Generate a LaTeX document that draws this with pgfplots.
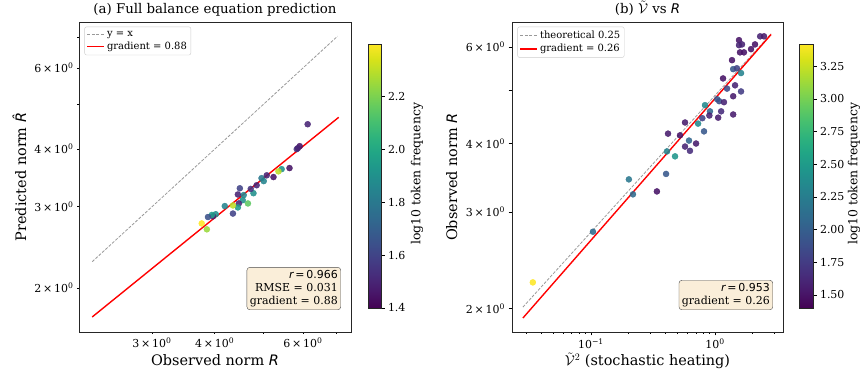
\documentclass[border=0pt]{standalone}
\usepackage{fontspec}
\setmainfont{DejaVu Serif}
\newfontfamily\msans{DejaVu Sans}
\usepackage{pgfplots}
\pgfplotsset{compat=1.18}
\definecolor{wheatbox}{RGB}{250,238,217}
\newcommand{\mi}[1]{{\msans\itshape #1}}
\newcommand{\tl}[1]{#1\,×\,10\textsuperscript{0}}
\begin{document}
\begin{tikzpicture}
\path[use as bounding box] (0,0) rectangle (862bp,375bp);
% ---------------- (a)
\begin{axis}[
  scale only axis, xmode=log, ymode=log, anchor=south west, clip=false,
  at={(79bp,43bp)}, width=272bp, height=310bp,
  tick align=outside, xtick pos=left, ytick pos=left,
  major tick length=2bp, minor tick length=2bp,
  tick style={black, line width=0.6pt},
  axis line style={line width=0.8pt, black!85},
  ticklabel style={font=\fontsize{11}{13}\selectfont},
  xlabel style={font=\fontsize{14.5}{16}\selectfont, at={(axis description cs:0.5,0)}, anchor=base, yshift=-34bp},
  ylabel style={font=\fontsize{14.5}{16}\selectfont, at={(axis description cs:-0.219,0.5)}, anchor=center},
  title style={font=\fontsize{13.4}{15}\selectfont, at={(axis description cs:0.5,1)}, anchor=south, yshift=-3.5bp},
  colormap/viridis,
  legend style={font=\fontsize{10}{12}\selectfont, draw=black!20, rounded corners=2bp,
    at={(0.02,0.985)}, anchor=north west, inner sep=2bp, row sep=0.5bp},
  legend cell align=left,
  xmin=2.146, xmax=7.48, ymin=1.605, ymax=7.55,
  xtick={3,4,5,6,7}, xticklabels={\tl{3},\tl{4},,\tl{6},},
  ytick={2,3,4,5,6,7}, yticklabels={\tl{2},\tl{3},\tl{4},,\tl{6},},
  minor xtick={}, minor ytick={},
  title={(a) Full balance equation prediction},
  xlabel={Observed norm \mi{R}},
  ylabel={Predicted norm \mi{R̂}},
  point meta min=1.4, point meta max=2.40,
  colorbar right,
  colorbar style={at={(parent axis.north east)}, anchor=north west, xshift=8.5bp, yshift=-22bp,
    scale only axis, width=13bp, height=264bp,
    tick align=outside, ytick pos=right, yticklabel pos=right,
    major tick length=3.5bp, xtick=\empty,
    tick style={black, line width=0.6pt},
    axis line style={line width=0.8pt, black!85},
    ticklabel style={font=\fontsize{11}{13}\selectfont},
    ytick={1.4,1.6,1.8,2.0,2.2}, yticklabels={1.4,1.6,1.8,2.0,2.2}},
]
\addplot[scatter, only marks, mark=*, mark size=3bp, point meta=explicit,
    scatter/use mapped color={draw=mapped color, fill=mapped color},
    fill opacity=0.88, draw opacity=0.88, forget plot] table[meta=c] {
x y c
6.13 4.53 1.5
5.91 4.06 1.45
5.83 4.00 1.55
5.86 4.02 1.5
5.64 3.64 1.45
5.44 3.62 1.9
5.36 3.58 2.3
5.24 3.48 1.45
5.08 3.51 1.5
4.96 3.46 1.8
5.01 3.41 1.85
4.85 3.34 1.5
4.78 3.21 1.9
4.72 3.28 1.55
4.66 3.05 2.15
4.57 3.18 1.85
4.55 3.10 1.9
4.49 3.29 1.6
4.45 3.19 1.5
4.47 3.05 1.5
4.45 2.99 1.95
4.35 3.02 2.3
4.35 2.90 1.6
4.19 3.01 1.85
4.02 2.89 1.9
3.97 2.86 1.5
3.95 2.88 1.95
3.88 2.85 1.65
3.77 2.76 2.4
3.86 2.68 2.25
};
\addplot[gray!80, line width=0.8bp, dash pattern=on 3bp off 1.5bp] coordinates {(2.28,2.28) (7.03,7.03)};
\addlegendentry{y = x}
\addplot[red, line width=1.4bp] coordinates {(2.28,1.73) (7.07,4.69)};
\addlegendentry{gradient = 0.88}
\node[anchor=south east, fill=wheatbox, draw=black!70, rounded corners=3bp, align=right,
  font=\fontsize{11}{13}\selectfont, inner sep=3bp] at (rel axis cs:0.963,0.071)
  {\mi{r}{\msans\,=\,0.966}\\RMSE = 0.031\\gradient = 0.88};
\node[rotate=90, anchor=center, font=\fontsize{12.5}{14}\selectfont] at (rel axis cs:1.243,0.51)
  {log10 token frequency};
\end{axis}
% ---------------- (b)
\begin{axis}[
  scale only axis, xmode=log, ymode=log, anchor=south west, clip=false,
  at={(512bp,43bp)}, width=271bp, height=310bp,
  tick align=outside, xtick pos=left, ytick pos=left,
  major tick length=3.5bp, minor tick length=2bp,
  tick style={black, line width=0.6pt},
  axis line style={line width=0.8pt, black!85},
  ticklabel style={font=\fontsize{11}{13}\selectfont},
  xlabel style={font=\fontsize{14.5}{16}\selectfont, at={(axis description cs:0.5,0)}, anchor=base, yshift=-34bp},
  ylabel style={font=\fontsize{14.5}{16}\selectfont, at={(axis description cs:-0.2225,0.5)}, anchor=center},
  title style={font=\fontsize{13.4}{15}\selectfont, at={(axis description cs:0.5,1)}, anchor=south, yshift=-3.5bp},
  colormap/viridis,
  legend style={font=\fontsize{10}{12}\selectfont, draw=black!20, rounded corners=2bp,
    at={(0.02,0.985)}, anchor=north west, inner sep=2bp, row sep=0.5bp},
  legend cell align=left,
  xmin=0.0231, xmax=3.53, ymin=1.81, ymax=6.67,
  xtick={0.1,1}, xticklabels={10\textsuperscript{−1},10\textsuperscript{0}},
  minor xtick={0.03,0.04,0.05,0.06,0.07,0.08,0.09,0.2,0.3,0.4,0.5,0.6,0.7,0.8,0.9,2,3},
  ytick={2,3,4,5,6}, yticklabels={\tl{2},\tl{3},\tl{4},,\tl{6}},
  minor ytick={},
  title={(b) $\tilde{\mathcal{V}}$ vs \mi{R}},
  xlabel={$\tilde{\mathcal{V}}^2$ (stochastic heating)},
  ylabel={Observed norm \mi{R}},
  point meta min=1.40, point meta max=3.42,
  colorbar right,
  colorbar style={at={(parent axis.north east)}, anchor=north west, xshift=7.5bp, yshift=-22bp,
    scale only axis, width=14bp, height=264bp,
    tick align=outside, ytick pos=right, yticklabel pos=right,
    major tick length=3.5bp, xtick=\empty,
    tick style={black, line width=0.6pt},
    axis line style={line width=0.8pt, black!85},
    ticklabel style={font=\fontsize{11}{13}\selectfont},
    ytick={1.5,1.75,2.0,2.25,2.5,2.75,3.0,3.25},
    yticklabels={1.50,1.75,2.00,2.25,2.50,2.75,3.00,3.25}},
]
\addplot[scatter, only marks, mark=*, mark size=3bp, point meta=explicit,
    scatter/use mapped color={draw=mapped color, fill=mapped color},
    fill opacity=0.88, draw opacity=0.88, forget plot] table[meta=c] {
x y c
2.31 6.28 1.6
2.48 6.28 1.55
2.10 6.07 1.5
1.95 5.95 1.5
1.56 6.18 1.5
1.56 6.05 1.6
1.65 6.07 1.6
1.59 5.87 1.5
1.71 5.87 1.5
1.37 5.68 1.5
1.40 5.47 1.95
1.50 5.49 1.8
1.62 5.38 2.3
1.16 5.26 1.5
1.45 5.11 1.6
1.25 5.04 1.85
1.62 4.98 1.75
1.40 4.88 1.55
1.04 4.82 1.95
1.08 4.78 1.9
1.18 4.76 1.6
0.83 4.70 2.35
0.91 4.58 2.05
1.12 4.58 1.65
1.40 4.52 1.55
0.90 4.50 1.6
1.06 4.46 1.55
0.79 4.45 1.8
0.73 4.35 2.35
0.573 4.37 1.55
0.522 4.14 1.5
0.418 4.17 1.55
0.617 4.05 2.05
0.815 4.21 1.95
0.573 3.95 1.6
0.703 4.00 1.55
0.628 3.88 1.65
0.410 3.87 2.3
0.476 3.79 2.45
0.403 3.52 1.95
0.202 3.44 2.2
0.340 3.27 1.5
0.218 3.23 2.1
0.1038 2.76 2.1
0.034 2.23 3.42
};
\addplot[gray!80, line width=0.8bp, dash pattern=on 3bp off 1.5bp] coordinates {(0.0283,2.01) (2.83,6.35)};
\addlegendentry{theoretical 0.25}
\addplot[red, line width=1.4bp] coordinates {(0.0283,1.92) (2.83,6.33)};
\addlegendentry{gradient = 0.26}
\node[anchor=south east, fill=wheatbox, draw=black!70, rounded corners=3bp, align=right,
  font=\fontsize{11}{13}\selectfont, inner sep=3bp] at (rel axis cs:0.963,0.071)
  {\mi{r}{\msans\,=\,0.953}\\gradient = 0.26};
\node[rotate=90, anchor=center, font=\fontsize{12.5}{14}\selectfont] at (rel axis cs:1.262,0.51)
  {log10 token frequency};
\end{axis}
\end{tikzpicture}
\end{document}
